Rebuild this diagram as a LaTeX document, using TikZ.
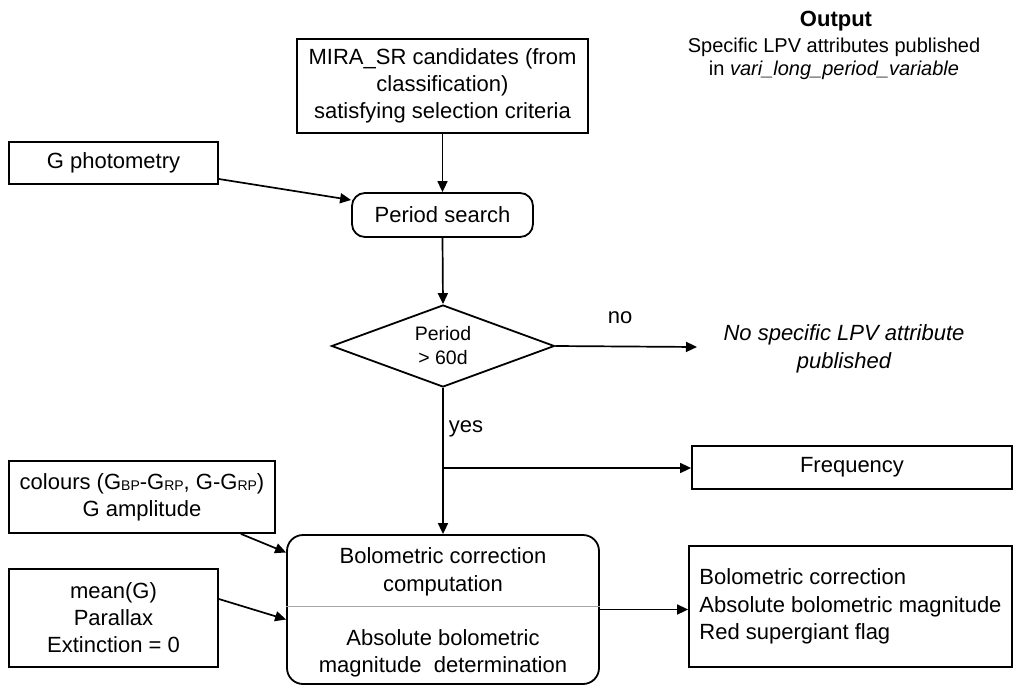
\documentclass[tikz,border=0pt]{standalone}
\usepackage{fontspec}
\setmainfont{Liberation Sans}
\usetikzlibrary{arrows.meta,shapes.geometric,calc}
\newcommand{\mysub}[1]{\raisebox{-1.5pt}{\fontsize{14}{14}\selectfont #1}}
\tikzset{
  box/.style={draw, line width=1.8pt, rectangle, inner sep=0pt, align=center,
    font=\fontsize{22}{27}\selectfont},
  rbox/.style={box, rounded corners=13pt},
  conn/.style={line width=1.7pt, -{Triangle[length=11pt,width=10pt]}},
  plain/.style={inner sep=0pt, align=center, font=\fontsize{22}{28}\selectfont},
}
\begin{document}
\begin{tikzpicture}[x=1pt,y=-1pt]
\fill[white] (0,0) rectangle (1013,686);
\useasboundingbox (0,0) rectangle (1013,686);

% nodes
\node[box, minimum width=291pt, minimum height=94pt] (top) at (442.5,86)
  {MIRA\_SR candidates (from\\classification)\\satisfying selection criteria};
\node[box, minimum width=209pt, minimum height=42pt] (gph) at (113.5,163) {G photometry};
\node[rbox, minimum width=181pt, minimum height=44pt] (ps) at (442.5,215) {Period search};
\node[draw, line width=1.8pt, diamond, aspect=2.7, inner sep=0pt,
  minimum width=223pt, minimum height=82pt, align=center,
  font=\fontsize{19.5}{24}\selectfont] (dia) at (443,346) {Period\\> 60d};
\node[plain] (no) at (620,318) {no};
\node[plain, font=\fontsize{22}{28}\selectfont\itshape] (nospec) at (844,349)
  {No specific LPV attribute\\published};
\coordinate (noend) at (697,347);
\node[plain] (yes) at (466,429) {yes};
\coordinate (br) at (443,468);
\node[box, minimum width=320pt, minimum height=43pt] (freq) at (852,467.5) {Frequency};
\node[box, minimum width=266pt, minimum height=72pt] (col) at (142,497)
  {colours (G\mysub{BP}-G\mysub{RP}, G-G\mysub{RP})\\G amplitude};
\node[box, minimum width=209pt, minimum height=98pt] (mean) at (113.5,618)
  {mean(G)\\Parallax\\Extinction = 0};
\node[rbox, rounded corners=16pt, minimum width=312pt, minimum height=149pt] (bolo) at (443,609.5) {};
\node[plain, font=\fontsize{22}{28}\selectfont] (bolo1) at (443,572)
  {Bolometric correction\\computation};
\node[plain, font=\fontsize{22}{27}\selectfont] (bolo2) at (443,653.5)
  {Absolute bolometric\\magnitude\ \ determination};
\node[box, minimum width=323pt, minimum height=121pt, align=left,
  font=\fontsize{22}{27.5}\selectfont] (res) at (850.5,606.5)
  {Bolometric correction\\Absolute bolometric magnitude\\Red supergiant flag};
\node[plain, font=\fontsize{22}{22}\bfseries] (outt) at (836,21) {Output};
\node[plain, font=\fontsize{20}{23}\selectfont] (outd) at (834,59)
  {Specific LPV attributes published\\in \textit{vari\_long\_period\_variable}};

% divider
\draw[gray!70, line width=1pt] (bolo.west |- 0,606) -- (bolo.east |- 0,606);

% connectors
\draw[conn] (top.south) -- (ps.north);
\draw[conn] ([yshift=-16pt]gph.east) -- ([yshift=15pt]ps.west);
\draw[conn] (ps.south) -- (dia.north);
\draw[conn] (dia.east) -- (noend);
\draw[line width=1.7pt] (dia.south) -- (br);
\draw[conn] (br) -- (freq.west |- br);
\draw[conn] (br) -- (bolo.north);
\draw[conn] ([xshift=-35pt]col.south east) -- ([yshift=57pt]bolo.west);
\draw[conn] ([yshift=19pt]mean.east) -- ([yshift=-10pt]bolo.west);
\draw[conn] (bolo.east) -- (bolo.east -| res.west);
\end{tikzpicture}
\end{document}
